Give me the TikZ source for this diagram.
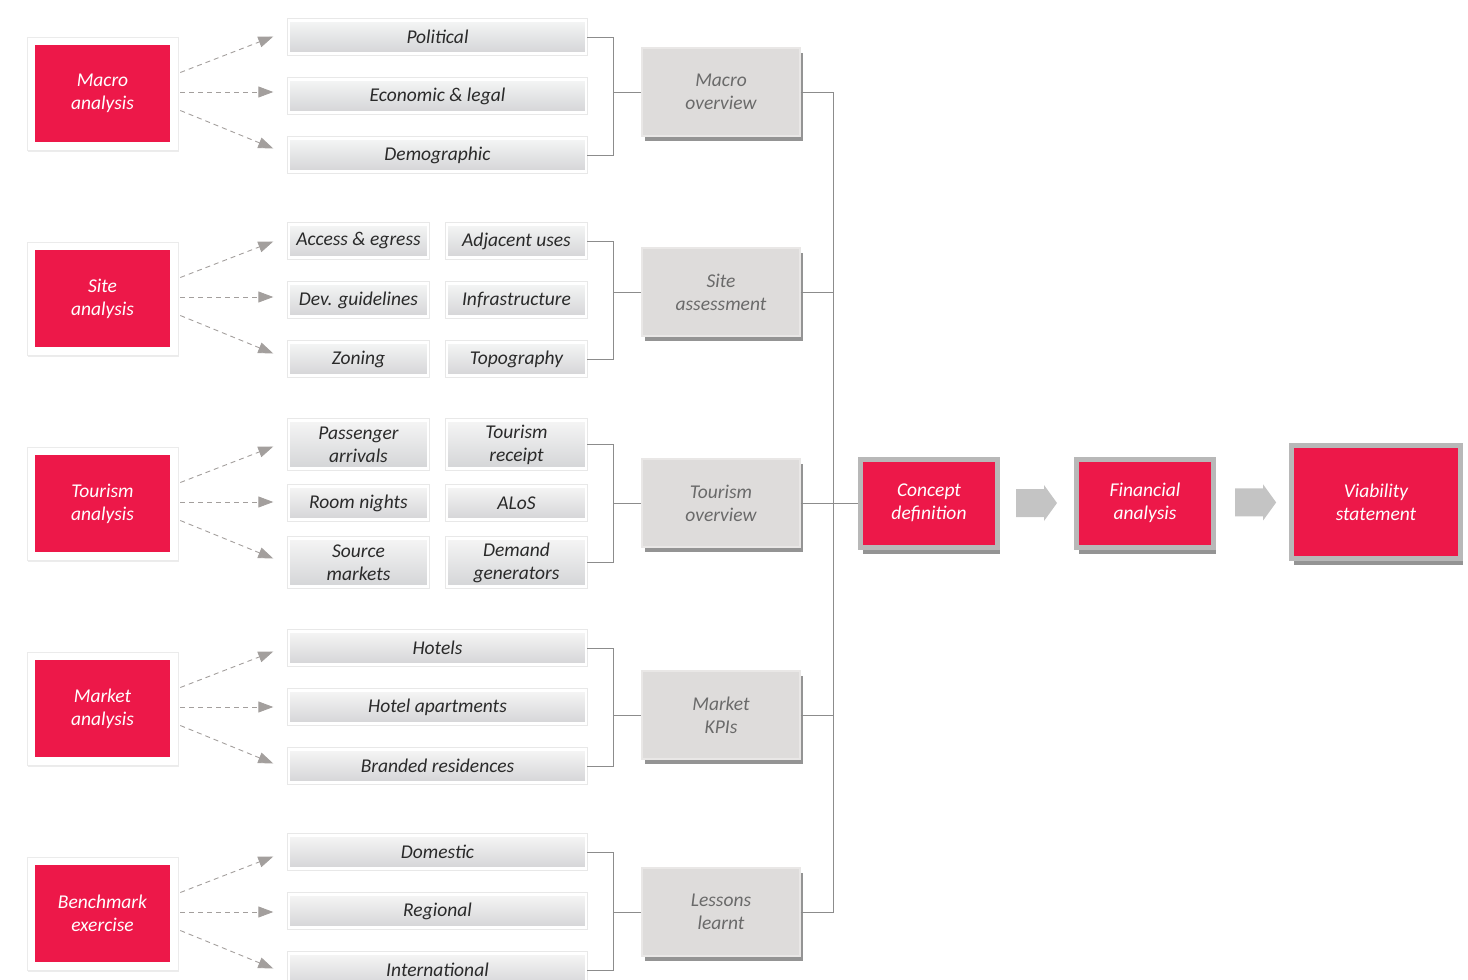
\documentclass[tikz,border=0pt]{standalone}
\usepackage{fontspec}
\setmainfont{Carlito}
\usetikzlibrary{calc,shadows,arrows.meta}
\definecolor{kred}{HTML}{ED1849}
\definecolor{rowtext}{HTML}{2A2A2A}
\definecolor{rowtop}{HTML}{F5F5F5}
\definecolor{rowbot}{HTML}{D4D5D7}
\definecolor{ovtext}{HTML}{6A6A6A}
\definecolor{ovfill}{HTML}{DEDCDB}
\definecolor{ovedge}{HTML}{E9E7E6}
\definecolor{frameg}{HTML}{B8B8B8}
\definecolor{conngray}{HTML}{8C8C8C}
\definecolor{dashgray}{HTML}{A39F9D}
\definecolor{arrowgray}{HTML}{C4C4C4}
\begin{document}
\begin{tikzpicture}[x=1pt,y=-1pt,
  txt/.style={font=\fontsize{19.5}{23}\selectfont\itshape, align=center, inner sep=0pt},
  leftframe/.style={fill=white, draw=black!8, line width=0.6pt, minimum width=151pt, minimum height=113pt,
    drop shadow={shadow xshift=1pt, shadow yshift=-1.5pt, opacity=0.15}},
  redbox/.style={txt, fill=kred, text=white, minimum width=135pt, minimum height=97pt},
  rowbox/.style={txt, text=rowtext, top color=rowtop, bottom color=rowbot, draw=white, line width=2.5pt,
    preaction={draw=black!9, line width=4.5pt}, minimum height=33pt},
  fullw/.style={minimum width=297pt},
  halfw/.style={minimum width=139pt},
  tallrow/.style={minimum height=48pt},
  ovbox/.style={txt, text=ovtext, fill=ovfill, draw=ovedge, line width=1.2pt, minimum width=158pt, minimum height=88pt,
    drop shadow={shadow xshift=2.5pt, shadow yshift=-5pt, fill=black!60, opacity=0.7}},
  bigred/.style={txt, text=white, fill=kred, draw=frameg, line width=5pt,
    drop shadow={shadow xshift=2.5pt, shadow yshift=-6.5pt, fill=black!60, opacity=0.7}},
  dasharrow/.style={draw=dashgray, line width=0.9pt, dash pattern=on 5pt off 4pt,
    -{Triangle[length=15pt,width=11pt]}},
  conn/.style={draw=conngray, line width=0.8pt},
  blockarrow/.style={fill=arrowgray}
]
\useasboundingbox (0,0) rectangle (1468,980);
\clip (0,0) rectangle (1468,980);

% ---------- Macro group
\node[leftframe] (maf) at (102.5,93.5) {};
\node[redbox] (ma) at (maf) {Macro\\analysis};
\node[rowbox, fullw] (pol) at (437.5,37) {Political};
\node[rowbox, fullw] (eco) at (437.5,96) {Economic \& legal};
\node[rowbox, fullw] (dem) at (437.5,155) {Demographic};
\node[ovbox] (mo) at (721,92) {Macro\\overview};

% ---------- Site group
\node[leftframe] (saf) at (102.5,298.5) {};
\node[redbox] (san) at (saf) {Site\\analysis};
\node[rowbox, halfw] (acc) at (358.5,241) {Access \& egress};
\node[rowbox, halfw] (adj) at (516.5,241) {Adjacent uses};
\node[rowbox, halfw] (dev) at (358.5,300) {Dev. guidelines};
\node[rowbox, halfw] (inf) at (516.5,300) {Infrastructure};
\node[rowbox, halfw] (zon) at (358.5,359) {Zoning};
\node[rowbox, halfw] (topo) at (516.5,359) {Topography};
\node[ovbox] (sa) at (721,292) {Site\\assessment};

% ---------- Tourism group
\node[leftframe] (taf) at (102.5,503.5) {};
\node[redbox] (tan) at (taf) {Tourism\\analysis};
\node[rowbox, halfw, tallrow] (pas) at (358.5,444.5) {Passenger\\arrivals};
\node[rowbox, halfw, tallrow] (tre) at (516.5,444.5) {Tourism\\receipt};
\node[rowbox, halfw] (roo) at (358.5,503) {Room nights};
\node[rowbox, halfw] (alo) at (516.5,503) {ALoS};
\node[rowbox, halfw, tallrow] (sou) at (358.5,562.5) {Source\\markets};
\node[rowbox, halfw, tallrow] (dgen) at (516.5,562.5) {Demand\\generators};
\node[ovbox] (to) at (721,503) {Tourism\\overview};

% ---------- Market group
\node[leftframe] (mkf) at (102.5,708.5) {};
\node[redbox] (mka) at (mkf) {Market\\analysis};
\node[rowbox, fullw] (hot) at (437.5,648) {Hotels};
\node[rowbox, fullw] (hap) at (437.5,707) {Hotel apartments};
\node[rowbox, fullw] (bra) at (437.5,766) {Branded residences};
\node[ovbox] (mk) at (721,715) {Market\\KPIs};

% ---------- Benchmark group
\node[leftframe] (bef) at (102.5,913.5) {};
\node[redbox] (bex) at (bef) {Benchmark\\exercise};
\node[rowbox, fullw] (dom) at (437.5,852) {Domestic};
\node[rowbox, fullw] (reg) at (437.5,911) {Regional};
\node[rowbox, fullw] (int) at (437.5,970) {International};
\node[ovbox] (ll) at (721,912) {Lessons\\learnt};

% ---------- Final chain
\node[bigred, minimum width=137pt, minimum height=88pt] (cd) at (929,503) {Concept\\definition};
\node[bigred, minimum width=137pt, minimum height=88pt] (fa) at (1145,503) {Financial\\analysis};
\node[bigred, minimum width=169pt, minimum height=113pt] (vs) at (1376,502) {Viability\\statement};

% ---------- Dashed arrows
\foreach \f/\a/\b/\c in {maf/pol/eco/dem, saf/acc/dev/zon, taf/pas/roo/sou, mkf/hot/hap/bra, bef/dom/reg/int}{
  \draw[dasharrow] ($(\f.east)+(2,-21)$) -- ($(\f.east)+(95,-57)$);
  \draw[dasharrow] ($(\f.east)+(2,-1.5)$) -- ($(\f.east)+(95,-1.5)$);
  \draw[dasharrow] ($(\f.east)+(2,17)$) -- ($(\f.east)+(95,55)$);
}

% ---------- Brackets
\foreach \t/\b/\o/\j in {pol/dem/mo/mj, adj/topo/sa/sj, tre/dgen/to/tj2, hot/bra/mk/kj, dom/int/ll/lj}{
  \coordinate (\j) at ($(\o.west)+(-28,0)$);
  \draw[conn] (\t.east) -| (\j);
  \draw[conn] (\b.east) -| (\j) -- (\o.west);
}

% ---------- Trunk
\coordinate (tj) at ($(cd.west)+(-25,0)$);
\draw[conn] (mo.east) -| (tj);
\draw[conn] (ll.east) -| (tj);
\draw[conn] (sa.east) -- (sa.east -| tj);
\draw[conn] (mk.east) -- (mk.east -| tj);
\draw[conn] (to.east) -- (cd.west);

% ---------- Block arrows
\coordinate (a1) at ($(cd.east)!0.5!(fa.west)$);
\coordinate (a2) at ($(fa.east)!0.55!(vs.west)$);
\foreach \m in {a1,a2}{
  \fill[blockarrow] ($(\m)+(-21,-14)$) -- ++(28,0) -- ++(0,-4) -- ++(13,18) -- ++(-13,18) -- ++(0,-4) -- ++(-28,0) -- cycle;
}
\end{tikzpicture}
\end{document}
